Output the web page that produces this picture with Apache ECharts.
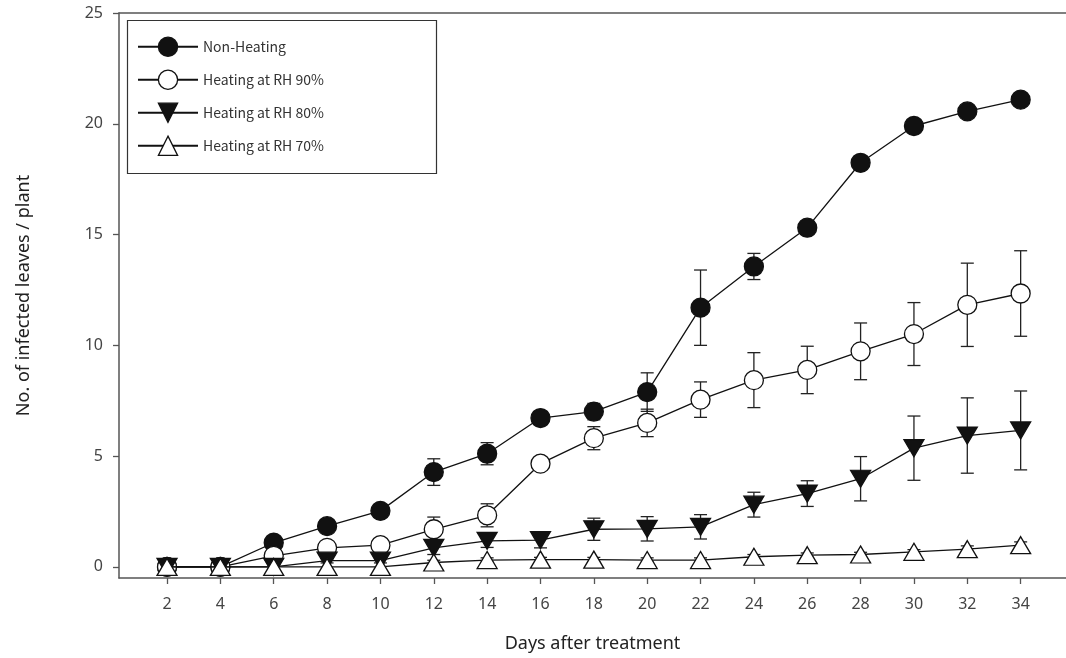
<!DOCTYPE html>
<html>
<head>
<meta charset="utf-8">
<script src="https://cdn.jsdelivr.net/npm/echarts@6/dist/echarts.min.js"></script>
<style>
  html, body { margin: 0; padding: 0; background: #fff; }
  #chart { width: 1066px; height: 658px; }
</style>
</head>
<body>
<div id="chart"></div>
<script>
// Days after treatment
const days = [2, 4, 6, 8, 10, 12, 14, 16, 18, 20, 22, 24, 26, 28, 30, 32, 34];

// Mean infected leaves per plant and standard error for each treatment
const nonHeating    = [0, 0, 1.09, 1.84, 2.53, 4.28, 5.11, 6.72, 7.01, 7.89, 11.70, 13.56, 15.31, 18.24, 19.90, 20.56, 21.09];
const nonHeatingErr = [0, 0, 0.15, 0.15, 0.15, 0.60, 0.50, 0.15, 0.37, 0.87, 1.70, 0.59, 0.30, 0.20, 0.20, 0.20, 0.20];

const rh90    = [0, 0, 0.50, 0.86, 0.98, 1.70, 2.33, 4.66, 5.81, 6.50, 7.55, 8.43, 8.89, 9.73, 10.51, 11.83, 12.34];
const rh90Err = [0, 0, 0.15, 0.15, 0.15, 0.55, 0.52, 0.15, 0.52, 0.62, 0.80, 1.24, 1.07, 1.28, 1.42, 1.88, 1.93];

const rh80    = [0, 0, 0, 0.28, 0.28, 0.86, 1.18, 1.21, 1.70, 1.72, 1.81, 2.81, 3.31, 3.98, 5.36, 5.93, 6.16];
const rh80Err = [0, 0, 0.10, 0.10, 0.10, 0.30, 0.30, 0.35, 0.50, 0.55, 0.55, 0.56, 0.58, 1.00, 1.45, 1.70, 1.78];

const rh70    = [0, 0, 0, 0, 0, 0.20, 0.31, 0.33, 0.33, 0.31, 0.31, 0.46, 0.53, 0.56, 0.68, 0.80, 0.98];
const rh70Err = [0, 0, 0, 0, 0, 0.10, 0.10, 0.10, 0.10, 0.10, 0.10, 0.10, 0.10, 0.10, 0.10, 0.15, 0.15];

// Tick labels
const xTicks = [2, 4, 6, 8, 10, 12, 14, 16, 18, 20, 22, 24, 26, 28, 30, 32, 34];
const yTicks = [0, 5, 10, 15, 20, 25];

const seriesNames = ['Non-Heating', 'Heating at RH 90%', 'Heating at RH 80%', 'Heating at RH 70%'];

const INK = '#111';
const AXIS = '#555';
const axisFont = 'Noto Sans';

function pairs(values) {
  return days.map((d, i) => [d, values[i]]);
}

// Vertical error bars with caps, drawn beneath the markers
function errorBars(id, values, errs, z) {
  return {
    type: 'custom',
    id: id,
    z: z,
    silent: true,
    clip: false,
    encode: { x: 0, y: 1 },
    data: days.map((d, i) => [d, values[i], errs[i]]),
    renderItem(params, api) {
      const x = api.value(0), y = api.value(1), e = api.value(2);
      if (!e) return null;
      const top = api.coord([x, y + e]);
      const bot = api.coord([x, y - e]);
      const w = 6.5;
      const style = { stroke: '#222', lineWidth: 1.3 };
      return {
        type: 'group',
        children: [
          { type: 'line', shape: { x1: top[0], y1: top[1], x2: bot[0], y2: bot[1] }, style: style },
          { type: 'line', shape: { x1: top[0] - w, y1: top[1], x2: top[0] + w, y2: top[1] }, style: style },
          { type: 'line', shape: { x1: bot[0] - w, y1: bot[1], x2: bot[0] + w, y2: bot[1] }, style: style }
        ]
      };
    }
  };
}

function lineSeries(name, values, symbol, size, fill, z, rotate) {
  return {
    type: 'line',
    name: name,
    z: z,
    data: pairs(values),
    symbol: symbol,
    symbolSize: size,
    symbolRotate: rotate || 0,
    showAllSymbol: true,
    clip: false,
    lineStyle: { color: INK, width: 1.3 },
    itemStyle: { color: fill, borderColor: INK, borderWidth: 1.3, opacity: 1 },
    emphasis: { disabled: true }
  };
}

const chart = echarts.init(document.getElementById('chart'), null, { renderer: 'canvas' });

chart.setOption({
  animation: false,
  backgroundColor: '#fff',
  grid: { left: 119, right: 0, top: 13, bottom: 78.5, containLabel: false },
  xAxis: [
    {
      type: 'value',
      min: 0.2,
      max: 35.7,
      position: 'bottom',
      name: 'Days after treatment',
      nameLocation: 'middle',
      nameGap: 57,
      nameTextStyle: { color: '#222', fontSize: 18, fontFamily: axisFont },
      axisLine: { show: true, onZero: false, lineStyle: { color: AXIS, width: 1.5 } },
      axisTick: { show: true, length: 6, inside: false, customValues: xTicks, lineStyle: { color: AXIS, width: 1.3 } },
      axisLabel: { show: true, margin: 18, customValues: xTicks, color: '#444', fontSize: 16, fontFamily: axisFont },
      splitLine: { show: false }
    },
    {
      type: 'value',
      min: 0.2,
      max: 35.7,
      position: 'top',
      axisLine: { show: true, onZero: false, lineStyle: { color: AXIS, width: 1.5 } },
      axisTick: { show: false },
      axisLabel: { show: false },
      splitLine: { show: false }
    }
  ],
  yAxis: {
    type: 'value',
    min: -0.5,
    max: 25,
    name: 'No. of infected leaves / plant',
    nameLocation: 'middle',
    nameGap: 86,
    nameRotate: 90,
    nameTextStyle: { color: '#222', fontSize: 18, fontFamily: axisFont },
    axisLine: { show: true, onZero: false, lineStyle: { color: AXIS, width: 1.5 } },
    axisTick: { show: true, length: 6, customValues: yTicks, lineStyle: { color: AXIS, width: 1.3 } },
    axisLabel: { show: true, margin: 16, customValues: yTicks, color: '#444', fontSize: 16, fontFamily: axisFont },
    splitLine: { show: false }
  },
  legend: {
    show: true,
    orient: 'vertical',
    left: 137,
    top: 36.5,
    padding: 0,
    itemWidth: 60,
    itemHeight: 24,
    itemGap: 12.5,
    itemTextGap: 14,
    itemStyle: { borderWidth: 1.3 },
    textStyle: { color: '#333', fontSize: 14, fontFamily: 'Noto Sans CJK KR' },
    data: seriesNames,
    selectedMode: false
  },
  graphic: [
    {
      type: 'rect',
      left: 125,
      top: 18,
      shape: { width: 309, height: 153 },
      style: { fill: 'none', stroke: '#333', lineWidth: 1.2 },
      z: 0
    }
  ],
  series: [
    errorBars('err-nonheating', nonHeating, nonHeatingErr, 1),
    errorBars('err-rh90', rh90, rh90Err, 1),
    errorBars('err-rh80', rh80, rh80Err, 1),
    errorBars('err-rh70', rh70, rh70Err, 1),
    lineSeries(seriesNames[0], nonHeating, 'circle', 19, INK, 3),
    lineSeries(seriesNames[1], rh90, 'circle', 19, '#fff', 4),
    lineSeries(seriesNames[2], rh80, 'triangle', [20, 17], INK, 5, 180),
    lineSeries(seriesNames[3], rh70, 'triangle', [20, 17], '#fff', 6)
  ]
});
</script>
</body>
</html>
